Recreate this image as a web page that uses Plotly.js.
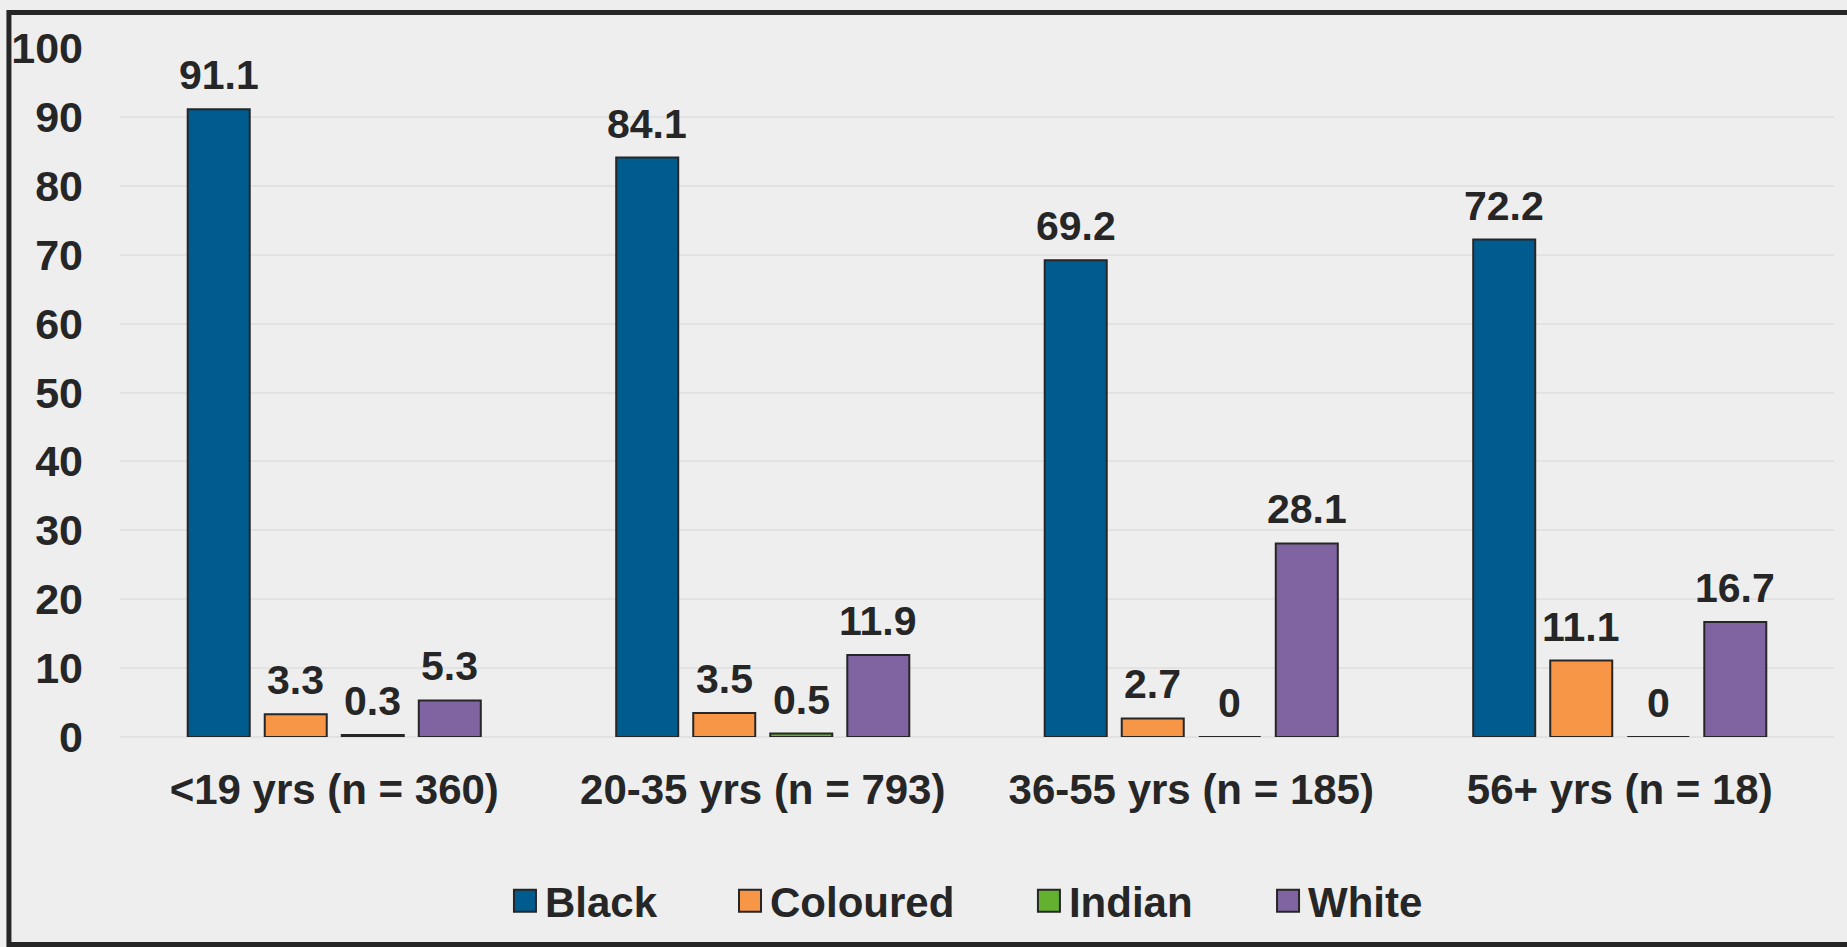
<!DOCTYPE html>
<html>
<head>
<meta charset="utf-8">
<script src="https://cdn.plot.ly/plotly-3.0.1.min.js"></script>
<style>html,body{margin:0;padding:0;background:#eeeeee;}#chart{width:1847px;height:947px;}</style>
</head>
<body>
<div id="chart"></div>
<script>
const categories = ['<19 yrs (n = 360)', '20-35 yrs (n = 793)', '36-55 yrs (n = 185)', '56+ yrs (n = 18)'];
const seriesNames = ['Black', 'Coloured', 'Indian', 'White'];
const blackValues = [91.1, 84.1, 69.2, 72.2];
const colouredValues = [3.3, 3.5, 2.7, 11.1];
const indianValues = [0.3, 0.5, 0, 0];
const whiteValues = [5.3, 11.9, 28.1, 16.7];
const yTickValues = [0, 10, 20, 30, 40, 50, 60, 70, 80, 90, 100];

const seriesValues = [blackValues, colouredValues, indianValues, whiteValues];
const colors = ['#005b8f', '#f79646', '#63b12f', '#8064a2'];
const legendIds = ['legend', 'legend2', 'legend3', 'legend4'];
const legendX = [0.2246, 0.3559, 0.5303, 0.6698];

const FONT = '"Liberation Sans", Arial, Helvetica, sans-serif';
const TXT = '#262626';
const BARGAP = 0.281;
const nSeries = seriesNames.length;
const slot = (1 - BARGAP) / nSeries;

const traces = seriesNames.map((name, i) => ({
  type: 'bar',
  name: name,
  x: categories,
  y: seriesValues[i],
  legend: legendIds[i],
  marker: {color: colors[i], line: {color: '#262626', width: 2}},
  hoverinfo: 'x+y+name'
}));

// value labels placed through the axes at each bar's position
const annotations = [];
seriesValues.forEach((vals, k) => {
  vals.forEach((v, c) => {
    annotations.push({
      xref: 'x', yref: 'y',
      x: c + (k - (nSeries - 1) / 2) * slot,
      y: v,
      text: String(v),
      showarrow: false,
      xanchor: 'center',
      yanchor: 'bottom',
      yshift: 9,
      font: {family: FONT, size: 41, weight: 'bold', color: TXT}
    });
  });
});

const layout = {
  width: 1847,
  height: 947,
  margin: {l: 120, r: 13, t: 48, b: 210},
  paper_bgcolor: '#eeeeee',
  plot_bgcolor: '#eeeeee',
  barmode: 'group',
  bargap: BARGAP,
  bargroupgap: 0.195,
  showlegend: true,
  font: {family: FONT, color: TXT},
  xaxis: {
    type: 'category',
    range: [-0.5, categories.length - 0.5],
    showgrid: false,
    showline: false,
    ticks: '',
    ticklabelstandoff: 24,
    tickfont: {family: FONT, size: 42, weight: 'bold', color: TXT}
  },
  yaxis: {
    range: [0, 100],
    tickvals: yTickValues,
    ticktext: yTickValues.map(String),
    showgrid: true,
    gridcolor: '#e2e2e2',
    gridwidth: 2,
    zeroline: true,
    zerolinecolor: '#e2e2e2',
    zerolinewidth: 2,
    showline: false,
    ticks: '',
    ticklabelstandoff: 36,
    tickfont: {family: FONT, size: 43, weight: 'bold', color: TXT}
  },
  annotations: annotations,
  shapes: [{
    type: 'rect', xref: 'paper', yref: 'paper',
    x0: -0.0648, x1: 1.03, y0: -0.3012, y1: 1.0515,
    line: {color: '#262626', width: 5},
    fillcolor: 'rgba(0,0,0,0)',
    layer: 'above'
  }]
};

legendIds.forEach((id, i) => {
  layout[id] = {
    orientation: 'h',
    x: legendX[i],
    xanchor: 'left',
    y: -0.238,
    yanchor: 'middle',
    bgcolor: 'rgba(0,0,0,0)',
    font: {family: FONT, size: 42, weight: 'bold', color: TXT}
  };
});

Plotly.newPlot('chart', traces, layout, {displayModeBar: false, staticPlot: true}).then(() => {
  // enlarge the legend swatches to match the reference's square keys
  document.querySelectorAll('#chart g.legendpoints path').forEach(p => {
    p.setAttribute('d', 'M11,11H-11V-11H11Z');
  });
});
</script>
</body>
</html>
